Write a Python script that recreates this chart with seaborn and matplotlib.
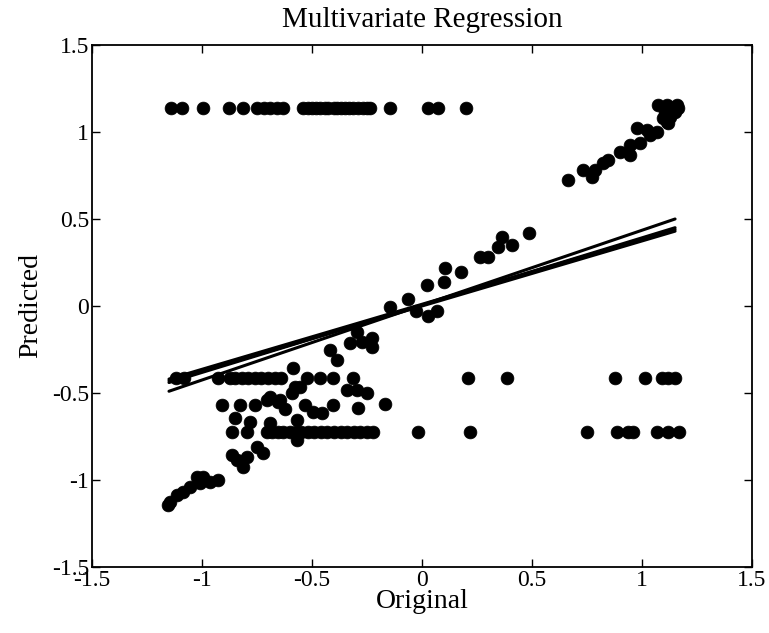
import numpy as np
import pandas as pd
import matplotlib
matplotlib.use("Agg")
import matplotlib.pyplot as plt
import seaborn as sns

# ---- data ----
# top saturated row (predicted ~1.14)
top_x = [-1.141, -1.091, -0.995, -0.877, -0.814, -0.75, -0.72, -0.69, -0.66, -0.632,
         -0.541, -0.52, -0.5, -0.48, -0.464, -0.44, -0.427, -0.40, -0.386, -0.37, -0.35,
         -0.33, -0.314, -0.29, -0.268, -0.25, -0.236, -0.145, 0.027, 0.073, 0.2]
top_y = [1.14] * len(top_x)

# upper-right diagonal cluster
ur_x = [0.664, 0.732, 0.773, 0.786, 0.823, 0.845, 0.90, 0.945, 0.945, 0.991, 0.977,
        1.023, 1.036, 1.068, 1.073, 1.114, 1.159, 1.105, 1.127, 1.114, 1.15, 1.118,
        1.095, 1.164]
ur_y = [0.724, 0.782, 0.741, 0.782, 0.822, 0.839, 0.885, 0.868, 0.925, 0.937, 1.023,
        1.011, 0.983, 1.0, 1.155, 1.155, 1.155, 1.115, 1.086, 1.057, 1.115, 1.05,
        1.08, 1.138]

# middle diagonal points
mid_x = [0.486, 0.364, 0.345, 0.409, 0.264, 0.30, 0.105, 0.177, 0.10, 0.023, -0.064,
         -0.145, -0.027, 0.027, 0.068, -0.327, -0.295, -0.273, -0.227, -0.227, -0.418,
         -0.386, -0.586]
mid_y = [0.42, 0.397, 0.339, 0.351, 0.282, 0.282, 0.218, 0.195, 0.138, 0.121, 0.04,
         -0.006, -0.029, -0.057, -0.029, -0.213, -0.149, -0.207, -0.184, -0.236, -0.253,
         -0.31, -0.356]

# row at predicted ~ -0.414
r1_x = [-1.12, -1.08, -0.927, -0.873, -0.85, -0.82, -0.79, -0.76, -0.73, -0.70, -0.67,
        -0.64, -0.523, -0.464, -0.405, -0.314, 0.209, 0.386, 0.877, 1.014, 1.09, 1.12,
        1.15]
r1_y = [-0.414] * len(r1_x)

# scattered points between the rows
sc_x = [-0.577, -0.59, -0.555, -0.34, -0.295, -0.25, -0.909, -0.827, -0.759, -0.705,
        -0.655, -0.623, -0.532, -0.495, -0.455, -0.405, -0.291, -0.168, -0.691, -0.645,
        -0.85, -0.782, -0.691, -0.568, -0.568, -0.75, -0.723, -0.864, -0.841, -0.814,
        -0.795]
sc_y = [-0.466, -0.50, -0.466, -0.483, -0.483, -0.50, -0.569, -0.569, -0.569, -0.54,
        -0.552, -0.592, -0.569, -0.609, -0.615, -0.569, -0.586, -0.563, -0.523, -0.54,
        -0.644, -0.667, -0.672, -0.655, -0.77, -0.81, -0.845, -0.856, -0.885, -0.925,
        -0.868]

# row at predicted ~ -0.724
r2_x = [-0.864, -0.795, -0.705, -0.68, -0.655, -0.63, -0.60, -0.575, -0.55, -0.52,
        -0.49, -0.46, -0.43, -0.40, -0.37, -0.34, -0.31, -0.28, -0.25, -0.223, -0.018,
        0.218, 0.75, 0.886, 0.936, 0.959, 1.068, 1.118, 1.17]
r2_y = [-0.724] * len(r2_x)

# lower-left diagonal tail
ll_x = [-1.155, -1.145, -1.114, -1.086, -1.055, -1.023, -1.009, -0.995, -0.964, -0.927]
ll_y = [-1.144, -1.126, -1.086, -1.069, -1.04, -0.983, -1.017, -0.983, -1.011, -1.0]

# fitted regression lines (end points)
fit_x = [-1.15, 1.15]
fit_y1 = [-0.49, 0.50]
fit_y2 = [-0.44, 0.45]
fit_y3 = [-0.43, 0.43]
fit_y4 = [-0.42, 0.44]

ticks = [-1.5, -1, -0.5, 0, 0.5, 1, 1.5]
tick_labels = ["-1.5", "-1", "-0.5", "0", "0.5", "1", "1.5"]

df = pd.DataFrame({
    "Original": top_x + ur_x + mid_x + r1_x + sc_x + r2_x + ll_x,
    "Predicted": top_y + ur_y + mid_y + r1_y + sc_y + r2_y + ll_y,
})

sns.set_style("ticks")
plt.rcParams["font.family"] = ["Liberation Serif", "DejaVu Serif"]
plt.rcParams["text.color"] = "black"
plt.rcParams["axes.labelcolor"] = "black"
plt.rcParams["xtick.color"] = "black"
plt.rcParams["ytick.color"] = "black"
plt.rcParams["xtick.direction"] = "in"
plt.rcParams["ytick.direction"] = "in"

fig = plt.figure(figsize=(7.69, 6.33), dpi=100)
ax = fig.add_axes([0.1196, 0.1043, 0.8584, 0.8246])

sns.scatterplot(data=df, x="Original", y="Predicted", ax=ax, color="black",
                s=85, edgecolor="black", linewidth=0.5, zorder=2)
for fy in [fit_y1, fit_y2, fit_y3, fit_y4]:
    sns.lineplot(x=fit_x, y=fy, ax=ax, color="black", linewidth=2.2, zorder=3)

ax.set_xlim(-1.5, 1.5)
ax.set_ylim(-1.5, 1.5)
ax.set_xticks(ticks)
ax.set_xticklabels(tick_labels)
ax.set_yticks(ticks)
ax.set_yticklabels(tick_labels)
ax.tick_params(axis="both", which="both", direction="in", length=6, width=1,
               top=True, right=True, labelsize=17, colors="black", pad=2)
for sp in ax.spines.values():
    sp.set_visible(True)
    sp.set_linewidth(1.3)
    sp.set_color("black")

ax.set_title("Multivariate Regression", fontsize=21, pad=13, color="black")
ax.set_xlabel("Original", fontsize=20, labelpad=-1, color="black")
ax.set_ylabel("Predicted", fontsize=20, labelpad=6, color="black")

fig.savefig("out.png", dpi=100)
